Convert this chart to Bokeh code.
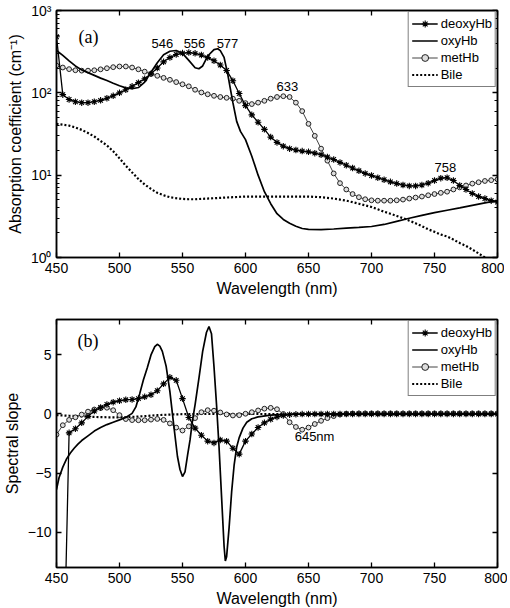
from bokeh.plotting import figure
from bokeh.models import (LinearAxis, LogAxis, Legend, LegendItem, CustomJSTickFormatter,
                          FixedTicker, LogTicker, Range1d, ColumnDataSource)
from bokeh.layouts import column
from bokeh.embed import file_html
from bokeh.resources import INLINE
from bokeh.core.properties import value

# ---------------- data ----------------
wl5 = list(range(450, 805, 5))
xticks = [450, 500, 550, 600, 650, 700, 750, 800]
yticks_b = [-10, -5, 0, 5]

# panel (a): absorption coefficient (cm^-1)
deoxy_a = [480, 95, 83, 78, 76, 76, 78, 81, 86, 92,
           100, 109, 120, 133, 148, 170, 200, 238, 268, 292,
           304, 308, 302, 288, 268, 245, 218, 187, 140, 98,
           70, 54, 44, 36, 29, 25, 22.5, 21, 20.2, 19.6,
           19.2, 18.5, 17.7, 16.6, 15.5, 14.3, 13.2, 12.2, 11.3, 10.5,
           9.9, 9.3, 8.8, 8.3, 7.9, 7.6, 7.4, 7.4, 7.6, 8.0,
           8.6, 9.2, 9.3, 8.6, 7.5, 6.7, 6.0, 5.5, 5.2, 4.9,
           4.7]
meth_a = [215, 203, 194, 188, 186, 186, 188, 193, 199, 205,
          209, 209, 203, 193, 181, 170, 161, 152, 144, 135,
          127, 120, 109, 101, 96, 92, 89, 87, 85, 80,
          75, 73, 76, 80, 85, 89, 91, 89, 76, 60,
          42, 30, 21, 15, 10.5, 8, 6.7, 5.9, 5.4, 5.1,
          4.95, 4.9, 4.9, 4.9, 4.95, 5.05, 5.2, 5.35, 5.5, 5.7,
          5.9, 6.1, 6.3, 6.7, 7.1, 7.5, 7.9, 8.2, 8.5, 8.7,
          8.9]
bile_a = [42, 41, 40, 38, 35.5, 32.5, 29.5, 26, 23, 19.5,
          16, 13, 10.8, 9, 7.7, 6.8, 6.1, 5.7, 5.4, 5.25,
          5.15, 5.1, 5.1, 5.15, 5.2, 5.25, 5.3, 5.35, 5.4, 5.45,
          5.5, 5.5, 5.5, 5.5, 5.5, 5.5, 5.5, 5.5, 5.5, 5.5,
          5.5, 5.45, 5.4, 5.3, 5.2, 5.05, 4.9, 4.7, 4.5, 4.3,
          4.1, 3.85, 3.6, 3.4, 3.2, 3.0, 2.8, 2.6, 2.4, 2.2,
          2.05, 1.9, 1.8, 1.65, 1.5, 1.38, 1.25, 1.12, 1.0, 0.9,
          0.82]
oxy_a_wl = [450, 455, 460, 465, 470, 475, 480, 485, 490, 495,
            500, 505, 510, 515, 520, 525, 530, 535, 540, 545,
            550, 555, 560, 563, 566, 570, 575, 578, 580, 583,
            586, 588, 590, 593, 596, 600, 605, 610, 615, 620,
            625, 630, 635, 640, 645, 650, 660, 670, 680, 690,
            700, 710, 720, 730, 740, 750, 760, 770, 780, 790, 800]
oxy_a = [327, 285, 245, 212, 190, 176, 163, 151, 141, 131,
         122, 115, 112, 116, 135, 178, 232, 290, 320, 327,
         302, 248, 202, 196, 212, 280, 335, 343, 325, 270,
         165, 112, 76, 45, 34, 27, 17, 10, 6.3, 4.5,
         3.4, 2.9, 2.6, 2.4, 2.25, 2.2, 2.18, 2.22, 2.28, 2.32,
         2.38, 2.52, 2.75, 3.0, 3.25, 3.5, 3.75, 4.0, 4.3, 4.6, 4.9]

# panel (b): spectral slope
deoxy_b = [-30, -25, -1.6, -1.25, -0.75, -0.2, 0.25, 0.55, 0.8, 1.0,
           1.12, 1.2, 1.23, 1.3, 1.45, 1.63, 1.97, 2.55, 3.1, 2.85,
           1.3, -0.3, -1.2, -1.8, -2.3, -2.45, -2.2, -2.3, -2.9, -3.4,
           -2.3, -1.7, -1.15, -0.75, -0.45, -0.25, -0.13, -0.06, -0.03, -0.01,
           0, 0, 0, 0, 0, 0, 0, 0, 0, 0,
           0, 0, 0, 0, 0, 0, 0, 0, 0, 0,
           0, 0, 0, 0, 0, 0, 0, 0, 0, 0,
           0]
meth_b = [-1.75, -0.95, -0.5, -0.28, -0.05, 0.2, 0.38, 0.5, 0.53, 0.32,
          -0.1, -0.43, -0.52, -0.53, -0.53, -0.48, -0.42, -0.5, -0.8, -1.15,
          -1.4, -1.05, -0.35, 0.15, 0.32, 0.28, 0.13, -0.04, -0.13, -0.1,
          0.02, 0.15, 0.3, 0.45, 0.52, 0.4, 0.0, -0.7, -1.1, -1.33,
          -1.15, -0.85, -0.58, -0.35, -0.18, -0.05, 0.02, 0.04, 0.05, 0.05,
          0.05, 0.05, 0.05, 0.05, 0.05, 0.05, 0.05, 0.05, 0.05, 0.05,
          0.05, 0.05, 0.05, 0.05, 0.05, 0.05, 0.05, 0.05, 0.05, 0.05,
          0.05]
oxy_b_wl = [450, 452, 455, 458, 461, 464, 467, 470, 475, 480,
            485, 490, 495, 500, 505, 510, 513, 516, 519, 522,
            525, 528, 530, 532, 534, 537, 540, 543, 546, 548,
            550, 552, 554, 556, 558, 560, 563, 566, 569, 571,
            573, 575, 577, 579, 581, 583, 584, 585, 587, 589,
            591, 593, 595, 598, 601, 605, 610, 620, 630, 650,
            700, 750, 800]
oxy_b = [-6.4, -5.4, -4.5, -3.8, -3.3, -2.9, -2.55, -2.25, -1.85, -1.45,
         -1.15, -0.9, -0.7, -0.5, -0.3, 0.05, 0.6, 1.7, 2.9, 3.9,
         5.0, 5.7, 5.9, 5.75, 5.3, 4.05, 1.9, -0.9, -3.6, -4.7,
         -5.3, -4.9, -3.5, -2.2, -0.5, 0.8, 3.0, 5.3, 6.9, 7.4,
         6.8, 4.0, 0.8, -2.8, -7.0, -11.2, -12.45, -12.1, -9.6, -6.6,
         -4.3, -2.8, -2.0, -1.2, -0.7, -0.4, -0.25, -0.1, -0.04, 0.0,
         0.0, 0.0, 0.0]
bile_b_wl = list(range(450, 810, 10))
bile_b = [-0.1, -0.15, -0.2, -0.25, -0.28, -0.28, -0.25, -0.18, -0.1, -0.05,
          -0.02, 0, 0, 0, 0, 0, 0, 0, 0, 0,
          0, -0.01, -0.01, -0.02, -0.02, -0.03, -0.03, -0.03, -0.03, -0.03,
          -0.03, -0.03, -0.03, -0.03, -0.03, -0.03]

# annotations
ann_a_text = ["546", "556", "577", "633", "758"]
ann_a_x = [534, 559.5, 585.7, 633.3, 758.7]
ann_a_y = [397, 397, 397, 119, 12.4]
ann_b_text = ["645nm"]
ann_b_x = [654.8]
ann_b_y = [-1.9]

FONT = "Liberation Sans"


def style_axis(ax, labels=True):
    ax.major_tick_in = 5
    ax.major_tick_out = 0
    ax.minor_tick_in = 3
    ax.minor_tick_out = 0
    ax.axis_line_width = 1.5
    ax.axis_line_color = "black"
    ax.major_tick_line_width = 1.3
    ax.major_tick_line_color = "black"
    ax.minor_tick_line_color = "black"
    ax.major_label_text_font = FONT
    ax.major_label_text_color = "black"
    ax.axis_label_text_font = FONT
    ax.axis_label_text_font_style = "normal"
    ax.axis_label_text_font_size = "16px"
    ax.axis_label_text_color = "black"
    if labels:
        ax.major_label_text_font_size = "14px"
        ax.major_label_standoff = 5
        ax.axis_label_standoff = 4
    else:
        ax.formatter = CustomJSTickFormatter(code="return '';")
        ax.major_label_text_font_size = "1px"
        ax.major_label_standoff = 0


def base_fig(frame_h, y_range, y_type, top, bottom):
    p = figure(frame_width=441, frame_height=frame_h,
               x_range=Range1d(450, 800), y_range=y_range, y_axis_type=y_type,
               output_backend="svg", toolbar_location=None,
               min_border_left=48, min_border_right=10,
               min_border_top=top, min_border_bottom=bottom,
               background_fill_color="white", border_fill_color="white")
    p.grid.visible = False
    p.outline_line_color = "black"
    p.outline_line_width = 1.5
    return p


def legend_for(p, items):
    leg = Legend(items=items, location="top_right")
    leg.margin = 1
    leg.padding = 3
    leg.spacing = 0
    leg.label_height = 17
    leg.glyph_height = 17
    leg.glyph_width = 26
    leg.label_standoff = 3
    leg.label_text_font = FONT
    leg.label_text_font_size = "13px"
    leg.label_text_color = "black"
    leg.border_line_color = "black"
    leg.border_line_width = 1
    leg.background_fill_color = "white"
    leg.background_fill_alpha = 1.0
    p.add_layout(leg)


def draw_series(p, dwl, dval, mwl, mval, owl, oval, bwl, bval):
    src_d = ColumnDataSource(dict(x=dwl, y=dval))
    src_m = ColumnDataSource(dict(x=mwl, y=mval))
    rb = p.line(bwl, bval, line_color="black", line_width=2.2, line_dash="2 2")
    rm_l = p.line("x", "y", source=src_m, line_color="#444444", line_width=1)
    rm_s = p.scatter("x", "y", source=src_m, marker="circle", size=4.8,
                     line_color="#222222", fill_color="#dddddd", line_width=1)
    rd_l = p.line("x", "y", source=src_d, line_color="black", line_width=1.3)
    rd_s = p.scatter("x", "y", source=src_d, marker="asterisk", size=6.5,
                     line_color="black", line_width=1.1)
    ro = p.line(owl, oval, line_color="black", line_width=1.7)
    items = [LegendItem(label="deoxyHb", renderers=[rd_l, rd_s]),
             LegendItem(label="oxyHb", renderers=[ro]),
             LegendItem(label="metHb", renderers=[rm_l, rm_s]),
             LegendItem(label="Bile", renderers=[rb])]
    legend_for(p, items)


# ---------------- panel (a) ----------------
p1 = base_fig(247, Range1d(1, 1000), "log", 10, 48)
draw_series(p1, wl5, deoxy_a, wl5, meth_a, oxy_a_wl, oxy_a, wl5, bile_a)
p1.xaxis.ticker = FixedTicker(ticks=xticks)
p1.xaxis.minor_tick_line_color = None
p1.xaxis.axis_label = "Wavelength (nm)"
p1.yaxis.axis_label = "Absorption coefficient (cm\u207b\u00b9)"
p1.yaxis.formatter = CustomJSTickFormatter(code="""
const sup = {'0':'\u2070','1':'\u00b9','2':'\u00b2','3':'\u00b3','4':'\u2074'};
const e = Math.round(Math.log10(tick));
return '10' + (sup[String(e)] || String(e));
""")
for ax in p1.xaxis + p1.yaxis:
    style_axis(ax)
top1 = LinearAxis(ticker=FixedTicker(ticks=xticks))
style_axis(top1, labels=False)
top1.minor_tick_line_color = None
p1.add_layout(top1, "above")
right1 = LogAxis(ticker=LogTicker())
style_axis(right1, labels=False)
p1.add_layout(right1, "right")

p1.text(ann_a_x, ann_a_y, text=ann_a_text, text_font=value(FONT), text_font_size="13px",
        text_align="center", text_baseline="middle", text_color="black")
p1.text([475.4], [471], text=["(a)"], text_font=value("Liberation Serif"), text_font_size="18px",
        text_align="center", text_baseline="middle", text_color="black")

# ---------------- panel (b) ----------------
p2 = base_fig(248, Range1d(-13, 8), "linear", 14, 40)
draw_series(p2, wl5, deoxy_b, wl5, meth_b, oxy_b_wl, oxy_b, bile_b_wl, bile_b)
p2.xaxis.ticker = FixedTicker(ticks=xticks)
p2.yaxis.ticker = FixedTicker(ticks=yticks_b)
p2.xaxis.axis_label = "Wavelength (nm)"
p2.yaxis.axis_label = "Spectral slope"
for ax in p2.xaxis + p2.yaxis:
    style_axis(ax)
p2.xaxis.minor_tick_line_color = None
p2.yaxis.minor_tick_line_color = None
top2 = LinearAxis(ticker=FixedTicker(ticks=xticks))
style_axis(top2, labels=False)
top2.minor_tick_line_color = None
p2.add_layout(top2, "above")
right2 = LinearAxis(ticker=FixedTicker(ticks=yticks_b))
style_axis(right2, labels=False)
right2.minor_tick_line_color = None
p2.add_layout(right2, "right")

p2.text(ann_b_x, ann_b_y, text=ann_b_text, text_font=value(FONT), text_font_size="13px",
        text_align="center", text_baseline="middle", text_color="black")
p2.text([475], [6.15], text=["(b)"], text_font=value("Liberation Serif"), text_font_size="18px",
        text_align="center", text_baseline="middle", text_color="black")

layout = column(p1, p2, spacing=0)
open("out.html", "w").write(file_html(layout, INLINE))
